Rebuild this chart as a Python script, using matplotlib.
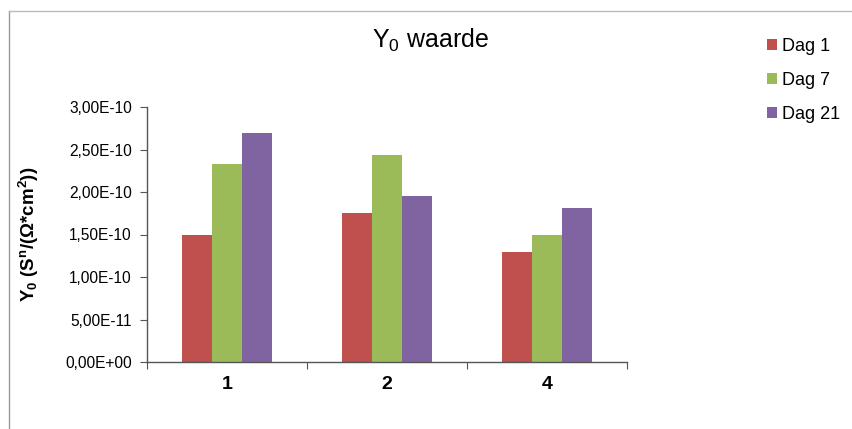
import numpy as np
import matplotlib
matplotlib.use('Agg')
import matplotlib.pyplot as plt
from matplotlib.ticker import FuncFormatter, FixedLocator
from matplotlib.lines import Line2D

plt.rcParams['font.family'] = ['Liberation Sans', 'DejaVu Sans']
plt.rcParams['mathtext.fontset'] = 'custom'
plt.rcParams['mathtext.rm'] = 'Liberation Sans'
plt.rcParams['mathtext.bf'] = 'Liberation Sans:bold'
plt.rcParams['mathtext.it'] = 'Liberation Sans:italic'

# data
categories = ['1', '2', '4']
series = ['Dag 1', 'Dag 7', 'Dag 21']
dag1 = [1.50e-10, 1.75e-10, 1.29e-10]
dag7 = [2.33e-10, 2.44e-10, 1.49e-10]
dag21 = [2.70e-10, 1.95e-10, 1.81e-10]
colors = ['#C0504D', '#9BBB59', '#8064A2']

fig = plt.figure(figsize=(8.52, 4.29), dpi=100)
ax = fig.add_axes([147/852, 1 - 362/429, 480/852, 255/429])

x = np.arange(len(categories))
w = 0.1875
for i, (vals, name) in enumerate(zip([dag1, dag7, dag21], series)):
    ax.bar(x + (i - 1) * w, vals, width=w, color=colors[i], label=name)

ax.set_xlim(-0.5, len(categories) - 0.5)
ax.set_ylim(0, 3e-10)
ax.set_yticks(np.arange(0, 3.01e-10, 0.5e-10))
ax.yaxis.set_major_formatter(FuncFormatter(lambda v, p: f"{v:.2E}".replace('.', ',')))

# category boundaries get the tick marks, labels sit at the centres
ax.xaxis.set_major_locator(FixedLocator(np.arange(-0.5, len(categories), 1.0)))
ax.xaxis.set_major_formatter(FuncFormatter(lambda v, p: ''))
ax.xaxis.set_minor_locator(FixedLocator(x))
ax.set_xticklabels(categories, minor=True, fontsize=14, fontweight='bold')
ax.tick_params(axis='x', which='minor', length=0, pad=10)
ax.tick_params(axis='x', which='major', length=5, color='#555555', direction='out')
ax.tick_params(axis='y', length=5, color='#555555', labelsize=11.2, pad=6)

for s in ['top', 'right']:
    ax.spines[s].set_visible(False)
for s in ['left', 'bottom']:
    ax.spines[s].set_color('#555555')
    ax.spines[s].set_linewidth(1.0)

ax.set_ylabel(r'Y$_\mathbf{0}$ (S$^\mathbf{n}$/($\mathbf{\Omega}$*cm$^\mathbf{2}$))',
              fontsize=13.5, fontweight='bold')
ax.yaxis.set_label_coords(-0.22, 0.5)

fig.text(0.505, 0.905, r'Y$_0$ waarde', fontsize=18, ha='center', va='center')

ax.legend(loc='upper left', bbox_to_anchor=(767/852, 1 - 38/429),
          bbox_transform=fig.transFigure, frameon=False, fontsize=13,
          handlelength=0.55, handleheight=0.55, handletextpad=0.3,
          labelspacing=0.95, borderaxespad=0, borderpad=0)

# thin chart border on the left and top
fig.add_artist(Line2D([9/852, 9/852], [0, 1 - 10.5/429], transform=fig.transFigure,
                      color='#999999', lw=1))
fig.add_artist(Line2D([9/852, 1], [1 - 10.5/429, 1 - 10.5/429], transform=fig.transFigure,
                      color='#bbbbbb', lw=1))

fig.savefig('out.png', dpi=100)
